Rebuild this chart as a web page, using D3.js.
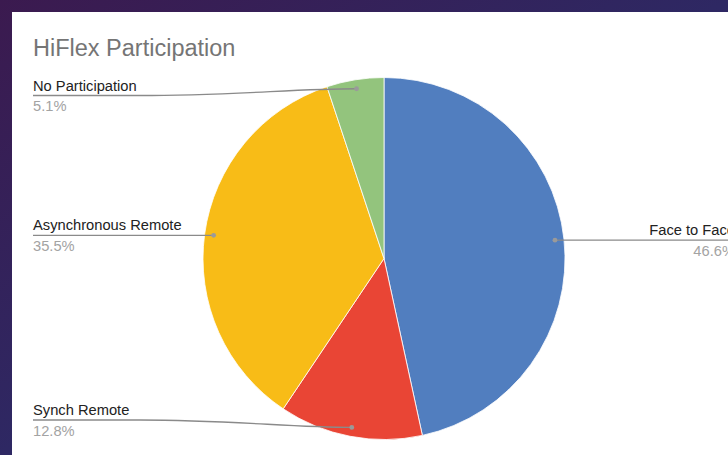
<!DOCTYPE html>
<html>
<head>
<meta charset="utf-8">
<script src="https://cdn.jsdelivr.net/npm/d3@7"></script>
<style>
  html, body { margin: 0; padding: 0; background: #2d2864; }
  svg { display: block; }
  text { font-family: Arial, "Liberation Sans", sans-serif; }
</style>
</head>
<body>
<svg id="chart" width="728" height="455"></svg>
<script>
const title = "HiFlex Participation";
const categories = ["Face to Face", "Synch Remote", "Asynchronous Remote", "No Participation"];
const values = [46.6, 12.8, 35.5, 5.1];
const colors = ["#517ebf", "#e94535", "#f8bc17", "#93c47d"];

const W = 728, H = 455;
const svg = d3.select("#chart");

// background
const defs = svg.append("defs");
const grad = defs.append("linearGradient").attr("id", "bg")
  .attr("x1", 0).attr("y1", 0).attr("x2", 1).attr("y2", 1);
grad.append("stop").attr("offset", "0%").attr("stop-color", "#3b1a4f");
grad.append("stop").attr("offset", "50%").attr("stop-color", "#2e2863");
grad.append("stop").attr("offset", "100%").attr("stop-color", "#222a6e");
svg.append("rect").attr("width", W).attr("height", H).attr("fill", "url(#bg)");
svg.append("rect").attr("x", 12).attr("y", 12).attr("width", W - 12).attr("height", H - 12).attr("fill", "#ffffff");

// title
svg.append("text").attr("x", 33).attr("y", 56)
  .attr("font-size", 23.5).attr("fill", "#757575").text(title);

const cx = 384, cy = 258.5, r = 181;
const g = svg.append("g").attr("transform", `translate(${cx},${cy})`);

const data = categories.map((c, i) => ({ name: c, value: values[i], color: colors[i] }));
const pie = d3.pie().value(d => d.value).sort(null);
const arcs = pie(data);
const arc = d3.arc().innerRadius(0).outerRadius(r);
const dotArc = d3.arc().innerRadius(r * 0.95).outerRadius(r * 0.95);

g.selectAll("path.slice").data(arcs).join("path")
  .attr("class", "slice")
  .attr("d", arc)
  .attr("fill", d => d.data.color)
  .attr("stroke", "#ffffff")
  .attr("stroke-width", 0.8);

const fmt = d3.format(".1f");
const yMin = 95.5, yMax = 420;
const leftX = 33, rightEnd = 728, rightTextX = 735;

arcs.forEach(d => {
  const [dx, dy] = dotArc.centroid(d);
  const px = cx + dx, py = cy + dy;
  const right = px > cx;
  const ly = Math.max(yMin, Math.min(yMax, py));
  let path;
  if (right) {
    path = `M${px},${py} L${rightEnd},${ly}`;
  } else {
    const bendX = Math.min(px - 20, 190);
    if (Math.abs(ly - py) < 1.5) {
      path = `M${leftX},${ly} L${px},${py}`;
    } else {
      path = `M${leftX},${ly} L${bendX - 50},${ly} C${bendX + 40},${ly} ${px - 60},${py} ${px},${py}`;
    }
  }
  svg.append("path").attr("d", path).attr("fill", "none")
    .attr("stroke", "#8a8a8a").attr("stroke-width", 1.3);
  svg.append("circle").attr("cx", px).attr("cy", py).attr("r", 2.4).attr("fill", "#9a9a9a");

  const tx = right ? rightTextX : leftX;
  const anchor = right ? "end" : "start";
  svg.append("text").attr("x", tx).attr("y", ly - 5)
    .attr("text-anchor", anchor).attr("font-size", 14.7).attr("fill", "#222222")
    .text(d.data.name);
  svg.append("text").attr("x", tx).attr("y", ly + 15.5)
    .attr("text-anchor", anchor).attr("font-size", 14.7).attr("fill", "#a3a3a3")
    .text(fmt(d.data.value) + "%");
});
</script>
</body>
</html>
